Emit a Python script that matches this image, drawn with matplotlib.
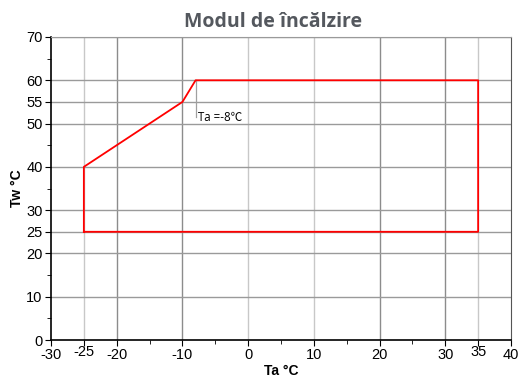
import matplotlib.pyplot as plt

plt.rcParams['font.family'] = ['Liberation Sans', 'DejaVu Sans']

# operating envelope (Ta, Tw)
env_ta = [-25, -25, -10, -8, 35, 35, -25]
env_tw = [25, 40, 55, 60, 60, 25, 25]

xticks = [-30, -25, -20, -10, 0, 10, 20, 30, 35, 40]
yticks = [0, 10, 20, 25, 30, 40, 50, 55, 60, 70]
dark_x = [-20, -10, 20, 30]
light_x = [-25, 0, 10, 35]

fig = plt.figure(figsize=(5.18, 3.79), dpi=100)
ax = fig.add_axes([51/518, 1 - 340/379, 460/518, 303/379])

for x in dark_x:
    ax.axvline(x, color='#8c8c8c', lw=1, zorder=0)
for x in light_x:
    ax.axvline(x, color='#c8c8c8', lw=1, zorder=0)
for y in yticks[1:-1]:
    ax.axhline(y, color='#9a9a9a', lw=1, zorder=0)
ax.axhline(70, color='#9a9a9a', lw=1, zorder=0)

ax.plot(env_ta, env_tw, color='#ff0000', lw=1.3, zorder=3)

# annotation at Ta = -8
ax.plot([-8, -8], [60, 51.5], color='#a0a0a0', lw=0.9, zorder=2)
ax.text(-7.6, 51.5, 'Ta =-8\u2103', fontsize=8.3, va='center', ha='left',
        family=['Open Sans', 'Noto Sans CJK SC', 'DejaVu Sans'])

ax.set_xlim(-30, 40)
ax.set_ylim(0, 70)
ax.set_xticks(xticks)
ax.set_yticks(yticks)
ax.set_xticks(range(-30, 41, 5), minor=True)
ax.set_yticks(range(5, 70, 10), minor=True)
ax.tick_params(axis='both', which='major', labelsize=10.5, length=4, direction='out', pad=2)
ax.tick_params(axis='both', which='minor', length=3)
ax.xaxis.set_major_formatter(plt.FuncFormatter(lambda v, p: '%d' % v))
ax.yaxis.set_major_formatter(plt.FuncFormatter(lambda v, p: '%d' % v))
for lab in ax.get_xticklabels():
    if lab.get_text() in ('-25', '35'):
        lab.set_y(0.01)

ax.spines['left'].set_color('black')
ax.spines['bottom'].set_color('black')
ax.spines['left'].set_linewidth(1.2)
ax.spines['bottom'].set_linewidth(1.2)
ax.spines['right'].set_color('#555555')
ax.spines['top'].set_color('#9a9a9a')

ax.set_xlabel('Ta \u00b0C', fontsize=10, fontweight='bold', labelpad=1)
ax.set_ylabel('Tw \u00b0C', fontsize=10, fontweight='bold', labelpad=2)
fig.suptitle('Modul de încălzire', fontsize=14, fontweight='bold', color='#54585e',
             y=0.968, x=0.527, family='Open Sans')

fig.savefig('out.png', dpi=100)
